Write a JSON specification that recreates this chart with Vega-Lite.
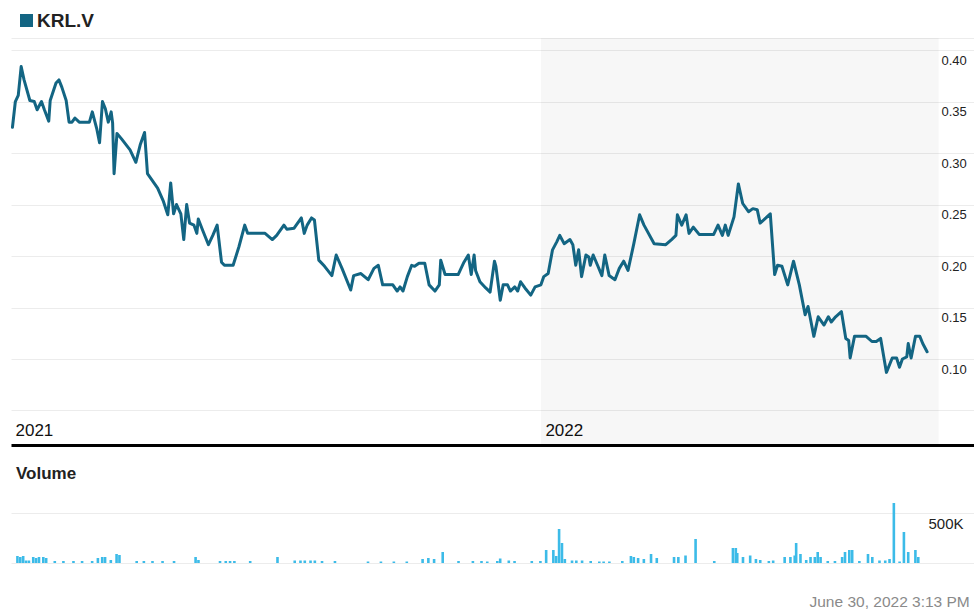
{
  "$schema": "https://vega.github.io/schema/vega-lite/v6.json",
  "padding": {"left": 10, "top": 11, "right": 0, "bottom": 0},
  "bounds": "flush",
  "spacing": 58,
  "config": {"font": "Liberation Sans", "view": {"stroke": null}},
  "datasets": {
    "shade": [{"start": "2022-01-01", "end": "2022-10-02"}],
    "price": [
      {"date": "2021-01-02", "close": 0.325}, {"date": "2021-01-04", "close": 0.350}, {"date": "2021-01-06", "close": 0.356},
      {"date": "2021-01-08", "close": 0.384}, {"date": "2021-01-10", "close": 0.371}, {"date": "2021-01-14", "close": 0.351},
      {"date": "2021-01-17", "close": 0.350}, {"date": "2021-01-19", "close": 0.342}, {"date": "2021-01-22", "close": 0.350},
      {"date": "2021-01-24", "close": 0.342}, {"date": "2021-01-27", "close": 0.331}, {"date": "2021-01-28", "close": 0.351},
      {"date": "2021-02-01", "close": 0.368}, {"date": "2021-02-03", "close": 0.371}, {"date": "2021-02-05", "close": 0.364},
      {"date": "2021-02-08", "close": 0.351}, {"date": "2021-02-10", "close": 0.330}, {"date": "2021-02-12", "close": 0.330},
      {"date": "2021-02-14", "close": 0.334}, {"date": "2021-02-17", "close": 0.330}, {"date": "2021-02-24", "close": 0.330},
      {"date": "2021-02-26", "close": 0.340}, {"date": "2021-03-01", "close": 0.324}, {"date": "2021-03-03", "close": 0.310},
      {"date": "2021-03-05", "close": 0.350}, {"date": "2021-03-07", "close": 0.343}, {"date": "2021-03-09", "close": 0.330},
      {"date": "2021-03-11", "close": 0.340}, {"date": "2021-03-12", "close": 0.329}, {"date": "2021-03-13", "close": 0.280},
      {"date": "2021-03-15", "close": 0.319}, {"date": "2021-03-18", "close": 0.314}, {"date": "2021-03-24", "close": 0.303},
      {"date": "2021-03-28", "close": 0.291}, {"date": "2021-03-31", "close": 0.308}, {"date": "2021-04-03", "close": 0.320},
      {"date": "2021-04-05", "close": 0.280}, {"date": "2021-04-12", "close": 0.266}, {"date": "2021-04-16", "close": 0.253},
      {"date": "2021-04-19", "close": 0.240}, {"date": "2021-04-21", "close": 0.271}, {"date": "2021-04-23", "close": 0.241},
      {"date": "2021-04-25", "close": 0.250}, {"date": "2021-04-28", "close": 0.241}, {"date": "2021-04-30", "close": 0.216},
      {"date": "2021-05-02", "close": 0.250}, {"date": "2021-05-04", "close": 0.232}, {"date": "2021-05-07", "close": 0.230},
      {"date": "2021-05-09", "close": 0.222}, {"date": "2021-05-10", "close": 0.236}, {"date": "2021-05-13", "close": 0.225},
      {"date": "2021-05-17", "close": 0.211}, {"date": "2021-05-20", "close": 0.220}, {"date": "2021-05-23", "close": 0.230},
      {"date": "2021-05-26", "close": 0.194}, {"date": "2021-05-28", "close": 0.191}, {"date": "2021-06-03", "close": 0.191},
      {"date": "2021-06-07", "close": 0.209}, {"date": "2021-06-11", "close": 0.230}, {"date": "2021-06-13", "close": 0.222},
      {"date": "2021-06-25", "close": 0.222}, {"date": "2021-06-30", "close": 0.216}, {"date": "2021-07-03", "close": 0.220},
      {"date": "2021-07-08", "close": 0.230}, {"date": "2021-07-10", "close": 0.226}, {"date": "2021-07-15", "close": 0.227},
      {"date": "2021-07-20", "close": 0.237}, {"date": "2021-07-22", "close": 0.222}, {"date": "2021-07-24", "close": 0.230},
      {"date": "2021-07-27", "close": 0.237}, {"date": "2021-07-29", "close": 0.235}, {"date": "2021-08-01", "close": 0.196},
      {"date": "2021-08-05", "close": 0.190}, {"date": "2021-08-10", "close": 0.181}, {"date": "2021-08-13", "close": 0.201},
      {"date": "2021-08-17", "close": 0.188}, {"date": "2021-08-23", "close": 0.167}, {"date": "2021-08-25", "close": 0.181},
      {"date": "2021-08-30", "close": 0.183}, {"date": "2021-09-04", "close": 0.177}, {"date": "2021-09-08", "close": 0.188},
      {"date": "2021-09-11", "close": 0.191}, {"date": "2021-09-14", "close": 0.172}, {"date": "2021-09-21", "close": 0.172},
      {"date": "2021-09-24", "close": 0.166}, {"date": "2021-09-26", "close": 0.170}, {"date": "2021-09-28", "close": 0.166},
      {"date": "2021-10-01", "close": 0.180}, {"date": "2021-10-04", "close": 0.191}, {"date": "2021-10-06", "close": 0.190},
      {"date": "2021-10-09", "close": 0.193}, {"date": "2021-10-13", "close": 0.193}, {"date": "2021-10-16", "close": 0.172},
      {"date": "2021-10-20", "close": 0.166}, {"date": "2021-10-23", "close": 0.172}, {"date": "2021-10-24", "close": 0.196},
      {"date": "2021-10-27", "close": 0.182}, {"date": "2021-11-05", "close": 0.182}, {"date": "2021-11-09", "close": 0.194},
      {"date": "2021-11-12", "close": 0.201}, {"date": "2021-11-14", "close": 0.182}, {"date": "2021-11-16", "close": 0.201},
      {"date": "2021-11-17", "close": 0.186}, {"date": "2021-11-20", "close": 0.175}, {"date": "2021-11-24", "close": 0.169},
      {"date": "2021-11-27", "close": 0.165}, {"date": "2021-11-30", "close": 0.195}, {"date": "2021-12-01", "close": 0.190},
      {"date": "2021-12-04", "close": 0.157}, {"date": "2021-12-06", "close": 0.172}, {"date": "2021-12-09", "close": 0.172},
      {"date": "2021-12-11", "close": 0.166}, {"date": "2021-12-14", "close": 0.170}, {"date": "2021-12-16", "close": 0.166},
      {"date": "2021-12-18", "close": 0.175}, {"date": "2021-12-21", "close": 0.169}, {"date": "2021-12-25", "close": 0.162},
      {"date": "2021-12-28", "close": 0.170}, {"date": "2022-01-01", "close": 0.172}, {"date": "2022-01-03", "close": 0.180},
      {"date": "2022-01-06", "close": 0.183}, {"date": "2022-01-09", "close": 0.206}, {"date": "2022-01-12", "close": 0.214},
      {"date": "2022-01-14", "close": 0.220}, {"date": "2022-01-17", "close": 0.212}, {"date": "2022-01-21", "close": 0.216},
      {"date": "2022-01-23", "close": 0.211}, {"date": "2022-01-25", "close": 0.191}, {"date": "2022-01-27", "close": 0.206},
      {"date": "2022-01-29", "close": 0.180}, {"date": "2022-02-01", "close": 0.201}, {"date": "2022-02-03", "close": 0.199},
      {"date": "2022-02-04", "close": 0.191}, {"date": "2022-02-06", "close": 0.201}, {"date": "2022-02-09", "close": 0.191},
      {"date": "2022-02-12", "close": 0.181}, {"date": "2022-02-14", "close": 0.201}, {"date": "2022-02-17", "close": 0.181},
      {"date": "2022-02-21", "close": 0.177}, {"date": "2022-02-24", "close": 0.188}, {"date": "2022-02-27", "close": 0.195},
      {"date": "2022-03-02", "close": 0.186}, {"date": "2022-03-06", "close": 0.212}, {"date": "2022-03-10", "close": 0.240},
      {"date": "2022-03-13", "close": 0.230}, {"date": "2022-03-20", "close": 0.212}, {"date": "2022-03-28", "close": 0.211},
      {"date": "2022-04-01", "close": 0.216}, {"date": "2022-04-04", "close": 0.220}, {"date": "2022-04-05", "close": 0.240},
      {"date": "2022-04-08", "close": 0.230}, {"date": "2022-04-11", "close": 0.240}, {"date": "2022-04-13", "close": 0.222},
      {"date": "2022-04-16", "close": 0.228}, {"date": "2022-04-20", "close": 0.221}, {"date": "2022-04-30", "close": 0.221},
      {"date": "2022-05-03", "close": 0.230}, {"date": "2022-05-06", "close": 0.220}, {"date": "2022-05-08", "close": 0.230},
      {"date": "2022-05-10", "close": 0.220}, {"date": "2022-05-14", "close": 0.238}, {"date": "2022-05-17", "close": 0.270},
      {"date": "2022-05-20", "close": 0.251}, {"date": "2022-05-24", "close": 0.243}, {"date": "2022-05-27", "close": 0.246},
      {"date": "2022-05-30", "close": 0.245}, {"date": "2022-06-01", "close": 0.232}, {"date": "2022-06-05", "close": 0.237},
      {"date": "2022-06-08", "close": 0.241}, {"date": "2022-06-11", "close": 0.182}, {"date": "2022-06-13", "close": 0.191},
      {"date": "2022-06-16", "close": 0.190}, {"date": "2022-06-20", "close": 0.172}, {"date": "2022-06-24", "close": 0.195},
      {"date": "2022-06-28", "close": 0.172}, {"date": "2022-07-02", "close": 0.143}, {"date": "2022-07-04", "close": 0.151},
      {"date": "2022-07-08", "close": 0.122}, {"date": "2022-07-11", "close": 0.141}, {"date": "2022-07-15", "close": 0.133},
      {"date": "2022-07-18", "close": 0.141}, {"date": "2022-07-20", "close": 0.136}, {"date": "2022-07-23", "close": 0.141},
      {"date": "2022-07-27", "close": 0.146}, {"date": "2022-07-30", "close": 0.120}, {"date": "2022-08-01", "close": 0.118},
      {"date": "2022-08-02", "close": 0.101}, {"date": "2022-08-05", "close": 0.122}, {"date": "2022-08-13", "close": 0.122},
      {"date": "2022-08-17", "close": 0.117}, {"date": "2022-08-20", "close": 0.117}, {"date": "2022-08-23", "close": 0.120},
      {"date": "2022-08-27", "close": 0.087}, {"date": "2022-08-31", "close": 0.101}, {"date": "2022-09-03", "close": 0.101},
      {"date": "2022-09-05", "close": 0.092}, {"date": "2022-09-07", "close": 0.100}, {"date": "2022-09-10", "close": 0.102},
      {"date": "2022-09-11", "close": 0.115}, {"date": "2022-09-13", "close": 0.101}, {"date": "2022-09-16", "close": 0.122},
      {"date": "2022-09-19", "close": 0.122}, {"date": "2022-09-21", "close": 0.115}, {"date": "2022-09-24", "close": 0.107}
    ],
    "volume": [
      {"date": "2021-01-02", "vol": 70000}, {"date": "2021-01-04", "vol": 60000}, {"date": "2021-01-06", "vol": 70000},
      {"date": "2021-01-08", "vol": 25000}, {"date": "2021-01-10", "vol": 25000}, {"date": "2021-01-13", "vol": 60000},
      {"date": "2021-01-15", "vol": 50000}, {"date": "2021-01-17", "vol": 60000}, {"date": "2021-01-20", "vol": 60000},
      {"date": "2021-01-22", "vol": 50000}, {"date": "2021-01-28", "vol": 20000}, {"date": "2021-02-03", "vol": 20000},
      {"date": "2021-02-10", "vol": 20000}, {"date": "2021-02-16", "vol": 20000}, {"date": "2021-02-23", "vol": 20000},
      {"date": "2021-02-27", "vol": 50000}, {"date": "2021-03-02", "vol": 60000}, {"date": "2021-03-04", "vol": 60000},
      {"date": "2021-03-08", "vol": 30000}, {"date": "2021-03-12", "vol": 90000}, {"date": "2021-03-14", "vol": 80000},
      {"date": "2021-03-26", "vol": 20000}, {"date": "2021-03-31", "vol": 20000}, {"date": "2021-04-06", "vol": 20000},
      {"date": "2021-04-13", "vol": 20000}, {"date": "2021-04-21", "vol": 20000}, {"date": "2021-05-06", "vol": 60000},
      {"date": "2021-05-08", "vol": 30000}, {"date": "2021-05-23", "vol": 20000}, {"date": "2021-05-27", "vol": 20000},
      {"date": "2021-05-30", "vol": 20000}, {"date": "2021-06-02", "vol": 20000}, {"date": "2021-06-13", "vol": 20000},
      {"date": "2021-07-02", "vol": 60000}, {"date": "2021-07-14", "vol": 25000}, {"date": "2021-07-18", "vol": 25000},
      {"date": "2021-07-21", "vol": 25000}, {"date": "2021-07-25", "vol": 25000}, {"date": "2021-07-28", "vol": 25000},
      {"date": "2021-08-02", "vol": 20000}, {"date": "2021-08-11", "vol": 20000}, {"date": "2021-09-03", "vol": 15000},
      {"date": "2021-09-12", "vol": 15000}, {"date": "2021-09-21", "vol": 15000}, {"date": "2021-09-30", "vol": 15000},
      {"date": "2021-10-11", "vol": 40000}, {"date": "2021-10-15", "vol": 50000}, {"date": "2021-10-19", "vol": 40000},
      {"date": "2021-10-25", "vol": 110000}, {"date": "2021-11-05", "vol": 20000}, {"date": "2021-11-15", "vol": 20000},
      {"date": "2021-11-21", "vol": 20000}, {"date": "2021-11-25", "vol": 15000}, {"date": "2021-12-02", "vol": 20000},
      {"date": "2021-12-04", "vol": 45000}, {"date": "2021-12-10", "vol": 25000}, {"date": "2021-12-14", "vol": 20000},
      {"date": "2021-12-26", "vol": 20000}, {"date": "2022-01-01", "vol": 20000}, {"date": "2022-01-05", "vol": 130000},
      {"date": "2022-01-10", "vol": 130000}, {"date": "2022-01-12", "vol": 70000}, {"date": "2022-01-14", "vol": 340000},
      {"date": "2022-01-16", "vol": 200000}, {"date": "2022-01-18", "vol": 40000}, {"date": "2022-01-23", "vol": 25000},
      {"date": "2022-01-26", "vol": 25000}, {"date": "2022-01-30", "vol": 25000}, {"date": "2022-02-05", "vol": 20000},
      {"date": "2022-02-11", "vol": 15000}, {"date": "2022-02-14", "vol": 15000}, {"date": "2022-02-18", "vol": 15000},
      {"date": "2022-02-27", "vol": 20000}, {"date": "2022-03-05", "vol": 70000}, {"date": "2022-03-07", "vol": 60000},
      {"date": "2022-03-10", "vol": 50000}, {"date": "2022-03-14", "vol": 40000}, {"date": "2022-03-19", "vol": 90000},
      {"date": "2022-03-23", "vol": 50000}, {"date": "2022-04-04", "vol": 60000}, {"date": "2022-04-07", "vol": 60000},
      {"date": "2022-04-12", "vol": 75000}, {"date": "2022-04-19", "vol": 240000}, {"date": "2022-05-02", "vol": 20000},
      {"date": "2022-05-15", "vol": 150000}, {"date": "2022-05-17", "vol": 150000}, {"date": "2022-05-18", "vol": 100000},
      {"date": "2022-05-22", "vol": 60000}, {"date": "2022-05-27", "vol": 75000}, {"date": "2022-05-31", "vol": 40000},
      {"date": "2022-06-03", "vol": 30000}, {"date": "2022-06-09", "vol": 20000}, {"date": "2022-06-12", "vol": 25000},
      {"date": "2022-06-20", "vol": 60000}, {"date": "2022-06-24", "vol": 60000}, {"date": "2022-06-27", "vol": 75000},
      {"date": "2022-06-28", "vol": 200000}, {"date": "2022-07-01", "vol": 90000}, {"date": "2022-07-05", "vol": 30000},
      {"date": "2022-07-08", "vol": 60000}, {"date": "2022-07-11", "vol": 60000}, {"date": "2022-07-13", "vol": 110000},
      {"date": "2022-07-15", "vol": 60000}, {"date": "2022-07-20", "vol": 20000}, {"date": "2022-07-25", "vol": 20000},
      {"date": "2022-07-30", "vol": 60000}, {"date": "2022-08-01", "vol": 110000}, {"date": "2022-08-04", "vol": 130000},
      {"date": "2022-08-06", "vol": 130000}, {"date": "2022-08-11", "vol": 20000}, {"date": "2022-08-17", "vol": 90000},
      {"date": "2022-08-20", "vol": 60000}, {"date": "2022-08-25", "vol": 25000}, {"date": "2022-08-29", "vol": 25000},
      {"date": "2022-09-01", "vol": 40000}, {"date": "2022-09-04", "vol": 600000}, {"date": "2022-09-08", "vol": 15000},
      {"date": "2022-09-11", "vol": 310000}, {"date": "2022-09-14", "vol": 110000}, {"date": "2022-09-19", "vol": 130000},
      {"date": "2022-09-21", "vol": 60000}
    ]
  },
  "vconcat": [
    {
      "width": 964,
      "height": 407,
      "layer": [
        {
          "data": {"name": "shade"},
          "mark": {"type": "rect", "color": "#000000", "opacity": 0.03},
          "encoding": {
            "x": {"field": "start", "type": "temporal",
              "scale": {"domain": [{"year": 2021, "month": 1, "date": 1}, {"year": 2022, "month": 10, "date": 27}]},
              "axis": {"orient": "bottom", "title": null, "values": [{"year": 2021, "month": 1, "date": 1}, {"year": 2022, "month": 1, "date": 1}],
                "format": "%Y", "grid": false, "domain": true, "domainColor": "#000000", "domainWidth": 3,
                "ticks": false, "tickSize": 0, "labelAlign": "left", "labelBaseline": "middle", "labelPadding": -15,
                "labelOffset": 4, "labelFontSize": 17, "labelColor": "#111111", "labelFlush": false, "labelOverlap": false}},
            "x2": {"field": "end"}
          }
        },
        {
          "data": {"name": "price"},
          "mark": {"type": "line", "strokeWidth": 3, "strokeJoin": "round", "strokeCap": "round"},
          "encoding": {
            "x": {"field": "date", "type": "temporal",
              "scale": {"domain": [{"year": 2021, "month": 1, "date": 1}, {"year": 2022, "month": 10, "date": 27}]},
              "axis": {"orient": "bottom", "title": null, "values": [{"year": 2021, "month": 1, "date": 1}, {"year": 2022, "month": 1, "date": 1}],
                "format": "%Y", "grid": false, "domain": true, "domainColor": "#000000", "domainWidth": 3,
                "ticks": false, "tickSize": 0, "labelAlign": "left", "labelBaseline": "middle", "labelPadding": -15,
                "labelOffset": 4, "labelFontSize": 17, "labelColor": "#111111", "labelFlush": false, "labelOverlap": false}},
            "y": {"field": "close", "type": "quantitative",
              "scale": {"domain": [0.0165, 0.4117], "nice": false, "zero": false},
              "axis": {"orient": "right", "title": null, "values": [0.05, 0.1, 0.15, 0.2, 0.25, 0.3, 0.35, 0.4, 0.4117],
                "grid": true, "gridColor": "#ececec", "domain": false, "ticks": false, "tickSize": 0,
                "labelAlign": "left", "labelBaseline": "middle", "labelPadding": -34, "labelOffset": 10,
                "labelFontSize": 13, "labelColor": "#222222", "labelFlush": false, "labelOverlap": false,
                "labelExpr": "(datum.value > 0.405 || datum.value < 0.06) ? '' : format(datum.value, '.2f')"}},
            "color": {"datum": "KRL.V", "type": "nominal", "scale": {"range": ["#136583"]},
              "legend": {"orient": "none", "legendX": 6, "legendY": -27, "title": null, "padding": 0,
                "symbolType": "square", "symbolSize": 36, "symbolStrokeWidth": 7, "symbolFillColor": "#136583",
                "labelFontSize": 19, "labelFontWeight": "bold", "labelColor": "#222222", "labelOffset": 1}}
          }
        }
      ]
    },
    {
      "width": 964,
      "height": 60,
      "title": {"text": "Volume", "anchor": "start", "frame": "group", "fontSize": 17, "fontWeight": "bold", "color": "#222222", "offset": 20, "dx": 5},
      "data": {"name": "volume"},
      "mark": {"type": "bar", "width": 2.6, "color": "#3cbbe8"},
      "encoding": {
        "x": {"field": "date", "type": "temporal",
          "scale": {"domain": [{"year": 2021, "month": 1, "date": 1}, {"year": 2022, "month": 10, "date": 27}]},
          "axis": {"orient": "bottom", "labels": false, "ticks": false, "domain": false, "grid": false,
            "title": "June 30, 2022 3:13 PM", "titleX": 798, "titleY": 38, "titleAlign": "left", "titleAnchor": null,
            "titleBaseline": "middle", "titleFontSize": 15.5, "titleFontWeight": "normal", "titleColor": "#8a8a8a"}},
        "y": {"field": "vol", "type": "quantitative",
          "scale": {"domain": [0, 600000], "nice": false},
          "axis": {"orient": "right", "title": null, "values": [0, 500000], "grid": true, "gridColor": "#ececec",
            "domain": false, "ticks": false, "tickSize": 0, "labelAlign": "left", "labelBaseline": "middle",
            "labelPadding": -47, "labelOffset": 10, "labelFontSize": 15, "labelColor": "#222222",
            "labelExpr": "datum.value == 500000 ? '500K' : ''"}}
      }
    }
  ]
}
